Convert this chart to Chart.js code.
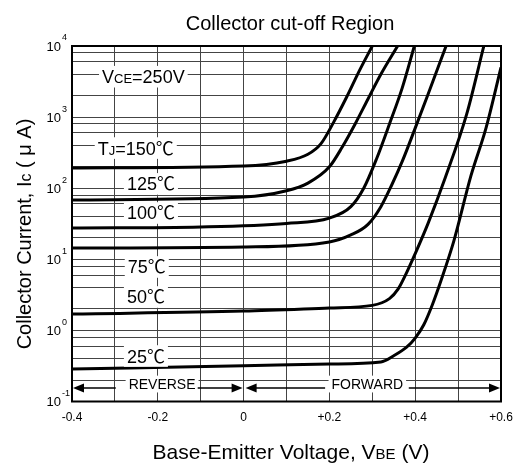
<!DOCTYPE html>
<html>
<head>
<meta charset="utf-8">
<script src="https://cdn.jsdelivr.net/npm/chart.js@4.4.0/dist/chart.umd.min.js"></script>
<style>
  html, body { margin: 0; padding: 0; background: #fff; }
</style>
</head>
<body>
<canvas id="chart" width="519" height="468"></canvas>
<script>
// values: base-emitter voltage (V) vs collector current (uA)
const vbe150 = [-0.4, 0, 0.1, 0.15, 0.18, 0.21, 0.24, 0.27, 0.30];
const ic150  = [192, 205, 240, 300, 420, 850, 1900, 4500, 10000];

const vbe125 = [-0.4, 0, 0.1, 0.15, 0.2, 0.23, 0.26, 0.29, 0.32, 0.359];
const ic125  = [68, 75, 92, 118, 200, 380, 800, 1800, 4000, 10000];

const vbe100 = [-0.4, -0.1, 0.1, 0.2, 0.25, 0.28, 0.31, 0.34, 0.37, 0.398];
const ic100  = [27.5, 28.5, 32, 38, 55, 100, 260, 800, 2600, 10000];

const vbe75 = [-0.4, 0, 0.2, 0.25, 0.29, 0.32, 0.345, 0.37, 0.4, 0.43, 0.472];
const ic75  = [14.4, 14.9, 17.5, 22, 31, 55, 110, 240, 700, 2100, 10000];

const vbe50 = [-0.4, 0, 0.2, 0.3, 0.34, 0.36, 0.38, 0.40, 0.43, 0.47, 0.52, 0.56];
const ic50  = [1.70, 1.87, 2.07, 2.25, 2.8, 3.8, 6.5, 12, 32, 140, 1100, 10000];

const vbe25 = [-0.4, 0, 0.2, 0.32, 0.35, 0.38, 0.40, 0.42, 0.44, 0.46, 0.49, 0.53, 0.565, 0.6];
const ic25  = [0.286, 0.317, 0.337, 0.36, 0.44, 0.58, 0.78, 1.2, 2.3, 5, 18, 150, 700, 5000];

const xTickLabels = ["-0.4", "-0.2", "0", "+0.2", "+0.4", "+0.6"];
const yDecades = [-1, 0, 1, 2, 3, 4];
const gridMult = [1, 2, 4, 6, 8];

const FONT = '"Liberation Sans", Arial, "Noto Sans CJK JP", sans-serif';

// text placed on the plot, anchored in data coordinates (left edge, middle)
const notes = [
    { x: -0.330, y: 3700, parts: [["V", 18], ["CE", 13], ["=250V", 18]] },
    { x: -0.340, y: 367,  parts: [["T", 18], ["J", 13], ["=150℃", 18]] },
    { x: -0.272, y: 115,  parts: [["125℃", 18]] },
    { x: -0.272, y: 44.8, parts: [["100℃", 18]] },
    { x: -0.270, y: 7.8,  parts: [["75℃", 18]] },
    { x: -0.272, y: 2.95, parts: [["50℃", 18]] },
    { x: -0.272, y: 0.436, parts: [["25℃", 18]] },
    { x: -0.268, y: 0.176, parts: [["REVERSE", 14]] },
    { x: 0.205,  y: 0.176, parts: [["FORWARD", 14]] },
];

function curve(vs, is) {
    return vs.map((v, i) => ({ x: v, y: is[i] }));
}

function line(data) {
    return {
        data: data,
        borderColor: "#000",
        borderWidth: 3,
        pointRadius: 0,
        fill: false,
        cubicInterpolationMode: "monotone",
    };
}

function partsWidth(ctx, parts) {
    let w = 0;
    parts.forEach(p => {
        ctx.font = p[1] + "px " + FONT;
        w += ctx.measureText(p[0]).width;
    });
    return w;
}

function drawParts(ctx, parts, x, y) {
    // all parts on one baseline, smaller parts act as subscripts
    ctx.textBaseline = "alphabetic";
    ctx.textAlign = "left";
    parts.forEach(p => {
        ctx.font = p[1] + "px " + FONT;
        ctx.fillText(p[0], x, y);
        x += ctx.measureText(p[0]).width;
    });
}

function arrowHead(ctx, x, y, dir) {
    ctx.beginPath();
    ctx.moveTo(x, y);
    ctx.lineTo(x - dir * 11, y - 4.5);
    ctx.lineTo(x - dir * 11, y + 4.5);
    ctx.closePath();
    ctx.fill();
}

const decorations = {
    id: "decorations",
    afterDatasetsDraw(chart) {
        const ctx = chart.ctx;
        const xs = chart.scales.x;
        const ys = chart.scales.y;
        const area = chart.chartArea;
        ctx.save();
        ctx.fillStyle = "#000";
        ctx.strokeStyle = "#000";

        // labels with white boxes over the grid
        notes.forEach(n => {
            const px = xs.getPixelForValue(n.x);
            const py = ys.getPixelForValue(n.y);
            const w = partsWidth(ctx, n.parts);
            const h = n.parts[0][1];
            ctx.fillStyle = "#fff";
            ctx.fillRect(px - 3, py - h * 0.6, w + 6, h * 1.2);
            ctx.fillStyle = "#000";
            drawParts(ctx, n.parts, px, py + h * 0.36);
        });

        // reverse / forward arrows
        const ay = ys.getPixelForValue(0.155);
        const x0 = xs.getPixelForValue(-0.4);
        const xz = xs.getPixelForValue(0);
        const x6 = xs.getPixelForValue(0.6);
        ctx.lineWidth = 1.5;
        ctx.beginPath();
        ctx.moveTo(x0 + 6, ay); ctx.lineTo(xs.getPixelForValue(-0.298), ay);
        ctx.moveTo(xs.getPixelForValue(-0.107), ay); ctx.lineTo(xz - 6, ay);
        ctx.moveTo(xz + 6, ay); ctx.lineTo(xs.getPixelForValue(0.19), ay);
        ctx.moveTo(xs.getPixelForValue(0.385), ay); ctx.lineTo(x6 - 6, ay);
        ctx.stroke();
        arrowHead(ctx, x0 + 1, ay, -1);
        arrowHead(ctx, xz - 1, ay, 1);
        arrowHead(ctx, xz + 2, ay, -1);
        arrowHead(ctx, x6 - 1, ay, 1);

        // plot frame
        ctx.lineWidth = 2;
        ctx.strokeRect(area.left, area.top, area.right - area.left, area.bottom - area.top);
        ctx.restore();
    },
    afterDraw(chart) {
        const ctx = chart.ctx;
        const ys = chart.scales.y;
        const area = chart.chartArea;
        ctx.save();
        ctx.fillStyle = "#000";

        // y tick labels as 10 with a raised exponent
        yDecades.forEach(e => {
            const py = ys.getPixelForValue(Math.pow(10, e));
            const ex = String(e);
            ctx.textAlign = "right";
            ctx.textBaseline = "middle";
            ctx.font = "13px " + FONT;
            const rx = area.left - 11;
            ctx.fillText("10", rx, py + 1);
            ctx.textAlign = "left";
            ctx.font = "9px " + FONT;
            ctx.fillText(ex, rx + 1, py - 8);
        });

        // title
        ctx.textAlign = "center";
        ctx.textBaseline = "alphabetic";
        ctx.font = "20px " + FONT;
        ctx.fillText("Collector cut-off Region", 290, 30);

        // x axis title
        const xt = [["Base-Emitter Voltage, V", 21], ["BE", 15], [" (V)", 21]];
        const xw = partsWidth(ctx, xt);
        drawParts(ctx, xt, 291 - xw / 2, 459);

        // y axis title
        const yt = [["Collector Current, I", 20], ["c", 16], [" ( μ A)", 20]];
        const yw = partsWidth(ctx, yt);
        ctx.translate(31, 234);
        ctx.rotate(-Math.PI / 2);
        drawParts(ctx, yt, -yw / 2, 0);
        ctx.restore();
    }
};

new Chart(document.getElementById("chart"), {
    type: "line",
    data: {
        datasets: [
            line(curve(vbe150, ic150)),
            line(curve(vbe125, ic125)),
            line(curve(vbe100, ic100)),
            line(curve(vbe75, ic75)),
            line(curve(vbe50, ic50)),
            line(curve(vbe25, ic25)),
        ]
    },
    options: {
        responsive: false,
        animation: false,
        devicePixelRatio: 1,
        layout: { padding: { top: 46, right: 18, left: 0, bottom: 0 } },
        plugins: {
            legend: { display: false },
            tooltip: { enabled: false },
        },
        scales: {
            x: {
                type: "linear",
                min: -0.4,
                max: 0.6,
                afterBuildTicks: scale => {
                    const t = [];
                    for (let i = 0; i <= 10; i++) t.push({ value: Math.round((-0.4 + i * 0.1) * 10) / 10 });
                    scale.ticks = t;
                },
                afterFit: scale => {
                    scale.height = 66.5;
                    scale.paddingLeft = 0;
                    scale.paddingRight = 0;
                },
                grid: { color: "#444", lineWidth: 1, drawTicks: false },
                border: { display: false },
                ticks: {
                    autoSkip: false,
                    maxRotation: 0,
                    padding: 9,
                    color: "#000",
                    font: { family: FONT, size: 12 },
                    callback: value => {
                        const k = Math.round(value * 10);
                        return k % 2 === 0 ? xTickLabels[(k + 4) / 2] : "";
                    }
                }
            },
            y: {
                type: "logarithmic",
                min: 0.1,
                max: 10000,
                afterBuildTicks: scale => {
                    const t = [];
                    yDecades.forEach(e => {
                        gridMult.forEach(m => {
                            const v = m * Math.pow(10, e);
                            if (v <= 10000.001) t.push({ value: v });
                        });
                    });
                    scale.ticks = t;
                },
                afterFit: scale => {
                    scale.width = 72;
                    scale.paddingTop = 0;
                    scale.paddingBottom = 0;
                },
                grid: { color: "#444", lineWidth: 1, drawTicks: false },
                border: { display: false },
                ticks: { display: false }
            }
        }
    },
    plugins: [decorations]
});
</script>
</body>
</html>
